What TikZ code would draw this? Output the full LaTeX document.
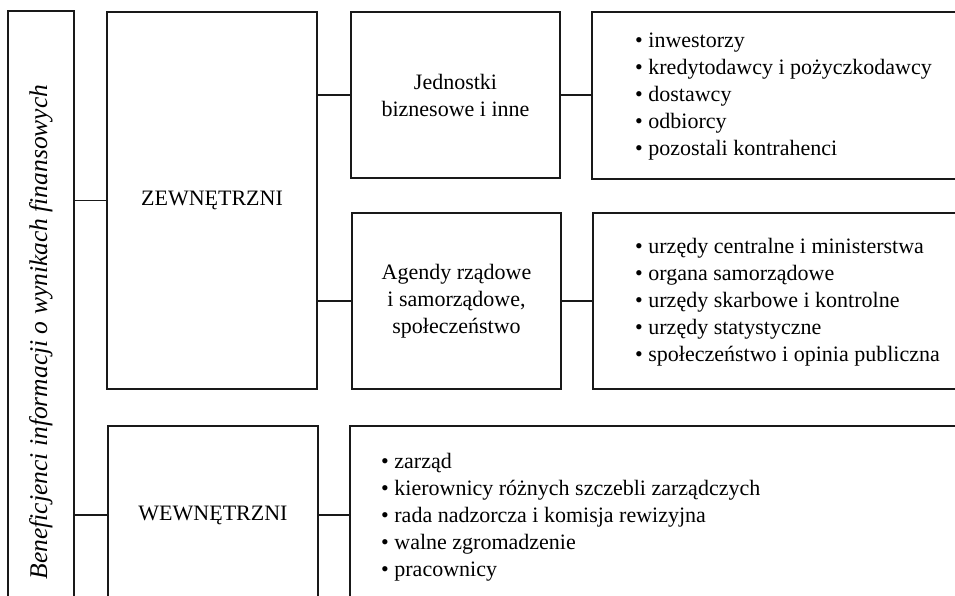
\documentclass[tikz,border=0pt]{standalone}
\usepackage{fontspec}
\setmainfont{Liberation Serif}
\begin{document}
\begin{tikzpicture}[x=1pt,y=-1pt,
  box/.style={draw=black!90, line width=1.7pt, rectangle, inner sep=0pt},
  link/.style={draw=black!90, line width=1.7pt},
  lbl/.style={font=\fontsize{22}{27}\selectfont, align=center, inner sep=0pt},
  items/.style={font=\fontsize{22}{27}\selectfont, align=left, inner sep=0pt, anchor=west}]
\useasboundingbox (0,0) rectangle (955,595);
\clip (0,0) rectangle (955,595);

% outer frame with the rotated title
\node[box, minimum width=66, minimum height=642] (ben) at (41,332) {};
\node[lbl, rotate=90, font=\fontsize{25.5}{27}\selectfont\itshape] (bentxt) at (41,332)
  {Beneficjenci informacji o wynikach finansowych};

% two main groups
\node[box, minimum width=210, minimum height=377] (zew) at (212,200.5) {};
\node[lbl] (zewtxt) at (zew) {ZEWNĘTRZNI};
\node[box, minimum width=210, minimum height=178] (wew) at (213,515) {};
\node[lbl] (wewtxt) at (wew) {WEWNĘTRZNI};

% external subgroups
\node[box, minimum width=209, minimum height=166] (jed) at (455.5,95) {};
\node[lbl] (jedtxt) at (jed) {Jednostki\\biznesowe i inne};
\node[box, minimum width=209, minimum height=176] (age) at (456.5,301) {};
\node[lbl] (agetxt) at (age) {Agendy rządowe\\i samorządowe,\\społeczeństwo};

% detail lists
\node[box, minimum width=408, minimum height=167] (r1) at (796,95.5) {};
\node[items] (r1txt) at (635,97)
  {\textbullet~inwestorzy\\
   \textbullet~kredytodawcy i pożyczkodawcy\\
   \textbullet~dostawcy\\
   \textbullet~odbiorcy\\
   \textbullet~pozostali kontrahenci};
\node[box, minimum width=407, minimum height=176] (r2) at (796.5,301) {};
\node[items] (r2txt) at (635,302)
  {\textbullet~urzędy centralne i ministerstwa\\
   \textbullet~organa samorządowe\\
   \textbullet~urzędy skarbowe i kontrolne\\
   \textbullet~urzędy statystyczne\\
   \textbullet~społeczeństwo i opinia publiczna};
\node[box, minimum width=650, minimum height=178] (r3) at (675,515) {};
\node[items] (r3txt) at (381,517)
  {\textbullet~zarząd\\
   \textbullet~kierownicy różnych szczebli zarządczych\\
   \textbullet~rada nadzorcza i komisja rewizyjna\\
   \textbullet~walne zgromadzenie\\
   \textbullet~pracownicy};

% connectors
\draw[link] (ben.east |- zew.west) -- (zew.west);
\draw[link] (ben.east |- wew.west) -- (wew.west);
\draw[link] (zew.east |- jed.west) -- (jed.west);
\draw[link] (zew.east |- age.west) -- (age.west);
\draw[link] (jed.east) -- (r1.west |- jed.east);
\draw[link] (age.east) -- (r2.west |- age.east);
\draw[link] (wew.east) -- (r3.west);
\end{tikzpicture}
\end{document}
